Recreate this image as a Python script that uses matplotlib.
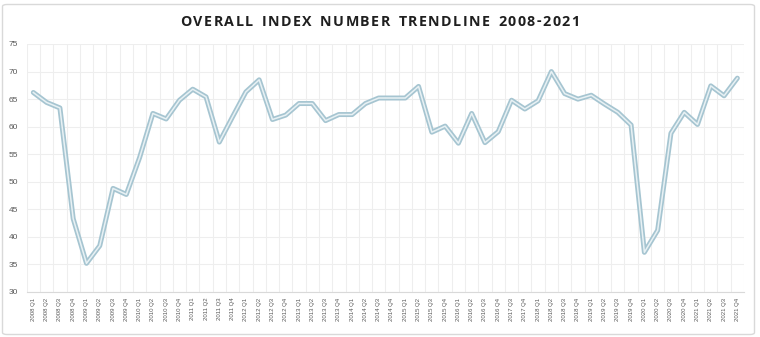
import matplotlib
matplotlib.use("Agg")
import matplotlib.pyplot as plt
from matplotlib.patches import FancyBboxPatch
import numpy as np

quarters = (
    [f"{y} Q{q}" for y in range(2008, 2017) for q in range(1, 5)]
    + ["2017 Q3", "2017 Q4"]
    + [f"{y} Q{q}" for y in range(2018, 2022) for q in range(1, 5)]
)
index_values = [
    66.2, 64.4, 63.4, 43.3,
    35.2, 38.4, 48.8, 47.7,
    54.4, 62.4, 61.4, 64.8,
    66.8, 65.4, 57.2, 61.8,
    66.3, 68.5, 61.3, 62.1,
    64.2, 64.2, 61.1, 62.2,
    62.2, 64.2, 65.2, 65.2,
    65.2, 67.3, 59.0, 60.1,
    57.0, 62.4, 57.1, 59.1,
    64.8, 63.2, 64.7, 70.0,
    66.0, 65.0, 65.7, 64.1,
    62.6, 60.3, 37.2, 41.2,
    58.8, 62.6, 60.4, 67.4,
    65.6, 68.8,
]
y_ticks = [30, 35, 40, 45, 50, 55, 60, 65, 70, 75]
title = "OVERALL INDEX NUMBER TRENDLINE 2008-2021"

W, H = 760, 337
fig = plt.figure(figsize=(W / 100, H / 100), dpi=100)
fig.patch.set_facecolor("white")

border = FancyBboxPatch((2.5 / W, 2.5 / H), (752 / W), (330 / H),
                        boxstyle="round,pad=0,rounding_size=0.006",
                        transform=fig.transFigure, facecolor="none",
                        edgecolor="#d9d9d9", linewidth=1.0)
fig.patches.append(border)

left, right, bottom, top = 26.7 / W, 744 / W, (H - 292) / H, (H - 44) / H
ax = fig.add_axes([left, bottom, right - left, top - bottom])

x = np.arange(len(quarters))
ax.plot(x, index_values, color="#a6c5d1", lw=3.6, solid_joinstyle="round",
        solid_capstyle="round", zorder=3)
ax.plot(x, index_values, color="#e8f1f4", lw=1.1, solid_joinstyle="round",
        zorder=4)

ax.set_xlim(-0.5, len(quarters) - 0.5)
ax.set_ylim(30, 75)
ax.set_yticks(y_ticks)
ax.set_yticklabels([str(v) for v in y_ticks], fontsize=6, color="#595959",
                   family="Liberation Sans")
ax.set_xticks(x)
ax.set_xticklabels(quarters, rotation=90, fontsize=4.3, color="#595959",
                   family="Liberation Sans")
ax.set_xticks(np.arange(-0.5, len(quarters), 1.0), minor=True)

ax.tick_params(axis="both", which="both", length=0)
ax.tick_params(axis="y", pad=6)
ax.tick_params(axis="x", pad=4)
ax.grid(axis="y", which="major", color="#eeeeee", lw=0.8)
ax.grid(axis="x", which="minor", color="#eeeeee", lw=0.8)
ax.grid(axis="x", which="major", visible=False)
for s in ["left", "right", "top"]:
    ax.spines[s].set_visible(False)
ax.spines["bottom"].set_color("#d9d9d9")
ax.spines["bottom"].set_linewidth(0.8)
ax.set_axisbelow(True)

# Title with letter spacing (tracking), drawn character by character
renderer = fig.canvas.get_renderer()
tprops = dict(fontsize=10.3, fontweight="bold", color="#1f1f1f", family="Open Sans")
widths = []
for ch in title:
    t = fig.text(0, 0, "n" if ch == " " else ch, **tprops)
    bb = t.get_window_extent(renderer)
    widths.append(bb.width * (0.6 if ch == " " else 1.0))
    t.remove()
target_w = 399.0
spacing = (target_w - sum(widths)) / (len(title) - 1)
xpos = 380 - target_w / 2
ty = (H - 21.5) / H
for ch, w in zip(title, widths):
    if ch != " ":
        fig.text(xpos / W, ty, ch, ha="left", va="center", **tprops)
    xpos += w + spacing

fig.savefig("out.png", dpi=100)
